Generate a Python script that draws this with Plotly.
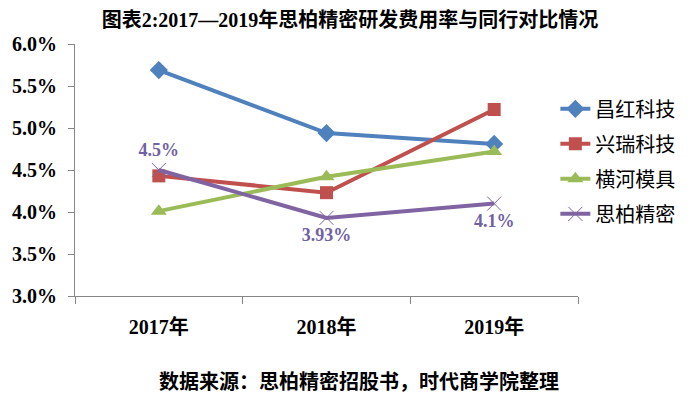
import plotly.graph_objects as go

years = ["2017年", "2018年", "2019年"]
changhong = [5.69, 4.94, 4.81]
xingrui = [4.43, 4.23, 5.22]
henghe = [4.01, 4.42, 4.72]
sibo = [4.5, 3.93, 4.1]
sibo_labels = ["4.5%", "3.93%", "4.1%"]
sibo_label_pos = ["top center", "bottom center", "bottom center"]
y_ticks = [3.0, 3.5, 4.0, 4.5, 5.0, 5.5, 6.0]
y_tick_text = ["3.0%", "3.5%", "4.0%", "4.5%", "5.0%", "5.5%", "6.0%"]

LAT = "Times New Roman, Liberation Serif, Noto Sans CJK SC, serif"
CJK = "Noto Sans CJK SC, sans-serif"

fig = go.Figure()
fig.add_trace(go.Scatter(x=years, y=changhong, name="昌红科技", mode="lines+markers",
                         line=dict(color="#4F81BD", width=4),
                         marker=dict(symbol="diamond", size=14, color="#4F81BD"),
                         legendgroup="a"))
fig.add_trace(go.Scatter(x=years, y=xingrui, name="兴瑞科技", mode="lines+markers",
                         line=dict(color="#C0504D", width=4),
                         marker=dict(symbol="square", size=13, color="#C0504D"),
                         legendgroup="b"))
fig.add_trace(go.Scatter(x=years, y=henghe, name="横河模具", mode="lines+markers",
                         line=dict(color="#9BBB59", width=4),
                         marker=dict(symbol="triangle-up", size=14, color="#9BBB59"),
                         legendgroup="c"))
fig.add_trace(go.Scatter(x=years, y=sibo, name="思柏精密", mode="lines+markers+text",
                         line=dict(color="#8064A2", width=4),
                         marker=dict(symbol="x-thin-open", size=14, color="#8064A2",
                                     line=dict(color="#8064A2", width=1)),
                         text=sibo_labels, textposition=sibo_label_pos,
                         textfont=dict(family=LAT, size=18, color="#7061A3", weight="bold"),
                         legendgroup="d"))

fig.update_layout(
    width=700, height=397,
    margin=dict(l=73, r=122, t=44, b=101),
    paper_bgcolor="white", plot_bgcolor="white",
    title=dict(text="<b>图表2:2017—2019年思柏精密研发费用率与同行对比情况</b>",
               x=0.5, xref="container", xanchor="center",
               y=1 - 20 / 397, yref="container", yanchor="middle",
               font=dict(family=LAT, size=20, color="black")),
    showlegend=True,
    legend=dict(x=0.955, xanchor="left", y=0.82, yanchor="top",
                font=dict(family=CJK, size=20, color="black"),
                tracegroupgap=6, bgcolor="rgba(0,0,0,0)"),
    xaxis=dict(type="category", range=[-0.5, 2.5], showline=True, linecolor="#868686",
               linewidth=1, ticks="outside", tickson="boundaries", ticklen=7,
               tickcolor="#868686", showgrid=False, zeroline=False,
               tickfont=dict(family=LAT, size=20, color="black", weight="bold"),
               ticklabelstandoff=13),
    yaxis=dict(range=[3.0, 6.0], tickvals=y_ticks, ticktext=y_tick_text,
               showline=True, linecolor="#868686", linewidth=1, ticks="outside",
               ticklen=6, tickcolor="#868686", showgrid=False, zeroline=False,
               tickfont=dict(family=LAT, size=20, color="black", weight="bold"),
               ticklabelstandoff=7),
)

fig.add_annotation(text="<b>数据来源：思柏精密招股书，时代商学院整理</b>",
                   x=(358 - 73) / 505, xref="paper", xanchor="center",
                   y=(296 - 381) / 252, yref="paper", yanchor="middle",
                   showarrow=False, font=dict(family=LAT, size=20, color="black"))

fig.write_html("out.html", config={"displayModeBar": False},
               post_script="document.body.style.margin='0';")
